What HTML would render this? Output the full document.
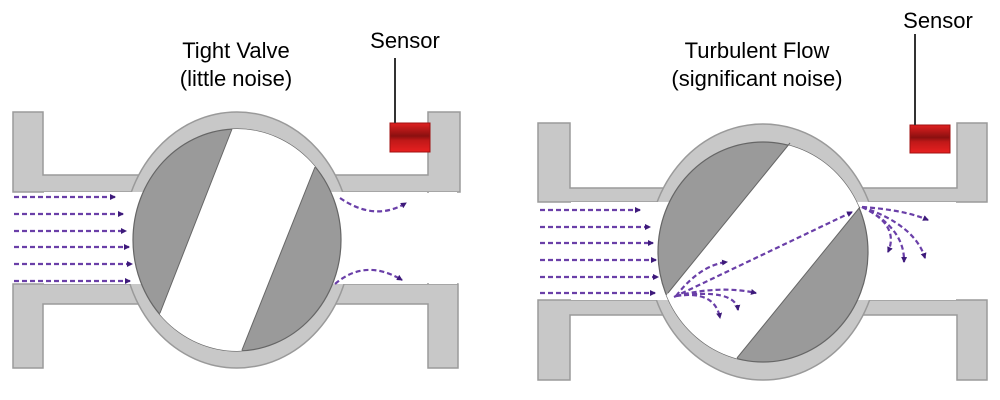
<!DOCTYPE html>
<html><head><meta charset="utf-8"><style>
html,body{margin:0;padding:0;background:#fff;}
svg{display:block;}
text{font-family:"Liberation Sans",Arial,sans-serif;font-size:22px;fill:#000;}
</style></head><body>
<svg width="1000" height="400" viewBox="0 0 1000 400" xmlns="http://www.w3.org/2000/svg">
<defs>
<marker id="ah" markerWidth="6" markerHeight="6" refX="5" refY="3" orient="auto" markerUnits="userSpaceOnUse"><path d="M0,0 L6,3 L0,6 Z" fill="#3d1a7a"/></marker>
<clipPath id="c1"><ellipse cx="237" cy="240" rx="104" ry="111"/></clipPath>
<clipPath id="c2"><ellipse cx="763" cy="252" rx="105" ry="110"/></clipPath>
<linearGradient id="sg" x1="0" y1="0" x2="0" y2="1"><stop offset="0" stop-color="#e02020"/><stop offset="0.45" stop-color="#8a1010"/><stop offset="0.6" stop-color="#c01818"/><stop offset="1" stop-color="#e82020"/></linearGradient>
</defs>

<!-- LEFT VALVE -->
<g stroke="#9a9a9a" stroke-width="1.5" fill="#c8c8c8">
<path d="M13,112 H43 V175 H150 V192 H43 H13 Z"/>
<path d="M13,284 H150 V304 H43 V368 H13 Z"/>
<path d="M460,112 H428 V175 H330 V192 H460 Z"/>
<path d="M458,284 H330 V304 H428 V368 H458 Z"/>
<ellipse cx="237" cy="240" rx="114" ry="128"/>
</g>
<rect x="44" y="192" width="193" height="92" fill="#fff"/>
<rect x="237" y="192" width="190" height="92" fill="#fff"/>
<rect x="429" y="192" width="28" height="92" fill="#fff"/>
<ellipse cx="237" cy="240" rx="104" ry="111" fill="#9a9a9a" stroke="#666" stroke-width="1.2"/>
<polygon clip-path="url(#c1)" points="246,92 330,130 227,387 146,350" fill="#fff"/>
<line x1="232" y1="129" x2="160" y2="313" stroke="#666" stroke-width="1"/>
<line x1="315" y1="167" x2="242" y2="350" stroke="#666" stroke-width="1"/>
<rect x="390" y="123" width="40" height="29" fill="url(#sg)" stroke="#a01010"/>
<line x1="395" y1="58" x2="395" y2="123" stroke="#333" stroke-width="2"/>

<g stroke="#6a3fa8" stroke-width="2.2" stroke-dasharray="5,3" fill="none" marker-end="url(#ah)">
<line x1="14" y1="197" x2="115" y2="197"/>
<line x1="14" y1="214" x2="123" y2="214"/>
<line x1="14" y1="231" x2="126" y2="231"/>
<line x1="14" y1="247" x2="129" y2="247"/>
<line x1="14" y1="264" x2="132" y2="264"/>
<line x1="14" y1="281" x2="130" y2="281"/>
<path d="M340,198 Q375,222 406,203"/>
<path d="M335,284 Q365,258 402,280"/>
</g>

<!-- RIGHT VALVE -->
<g stroke="#9a9a9a" stroke-width="1.5" fill="#c8c8c8">
<path d="M538,123 H570 V188 H680 V202 H538 Z"/>
<path d="M538,300 H680 V315 H570 V380 H538 Z"/>
<path d="M987,123 H957 V188 H850 V202 H987 Z"/>
<path d="M987,300 H850 V315 H957 V380 H987 Z"/>
<ellipse cx="763" cy="252" rx="115" ry="128"/>
</g>
<rect x="571" y="202" width="192" height="98" fill="#fff"/>
<rect x="763" y="202" width="193" height="98" fill="#fff"/>
<ellipse cx="763" cy="252" rx="105" ry="110" fill="#9a9a9a" stroke="#666" stroke-width="1.2"/>
<polygon clip-path="url(#c2)" points="814,113 897,162 725,373 644,323" fill="#fff"/>
<line x1="790" y1="143" x2="668" y2="293" stroke="#666" stroke-width="1"/>
<line x1="860" y1="207" x2="737" y2="358" stroke="#666" stroke-width="1"/>
<rect x="910" y="125" width="40" height="28" fill="url(#sg)" stroke="#a01010"/>
<line x1="915" y1="34" x2="915" y2="125" stroke="#333" stroke-width="2"/>

<g stroke="#6a3fa8" stroke-width="2.2" stroke-dasharray="5,3" fill="none" marker-end="url(#ah)">
<line x1="540" y1="210" x2="640" y2="210"/>
<line x1="540" y1="227" x2="650" y2="227"/>
<line x1="540" y1="243" x2="653" y2="243"/>
<line x1="540" y1="260" x2="656" y2="260"/>
<line x1="540" y1="277" x2="658" y2="277"/>
<line x1="540" y1="293" x2="655" y2="293"/>
<line x1="674" y1="297" x2="852" y2="212"/>
<path d="M676,296 Q700,265 727,262"/>
<path d="M676,296 Q720,285 756,293"/>
<path d="M676,296 Q715,290 720,318"/>
<path d="M676,296 Q735,288 738,310"/>
<path d="M862,207 Q905,210 928,220"/>
<path d="M862,207 Q900,225 888,252"/>
<path d="M862,207 Q905,228 904,262"/>
<path d="M862,207 Q915,225 925,258"/>
</g>

<!-- Labels -->
<text x="236" y="58" text-anchor="middle">Tight Valve</text>
<text x="236" y="86" text-anchor="middle">(little noise)</text>
<text x="405" y="48" text-anchor="middle">Sensor</text>
<text x="757" y="58" text-anchor="middle">Turbulent Flow</text>
<text x="757" y="86" text-anchor="middle">(significant noise)</text>
<text x="938" y="28" text-anchor="middle">Sensor</text>
</svg>
</body></html>
